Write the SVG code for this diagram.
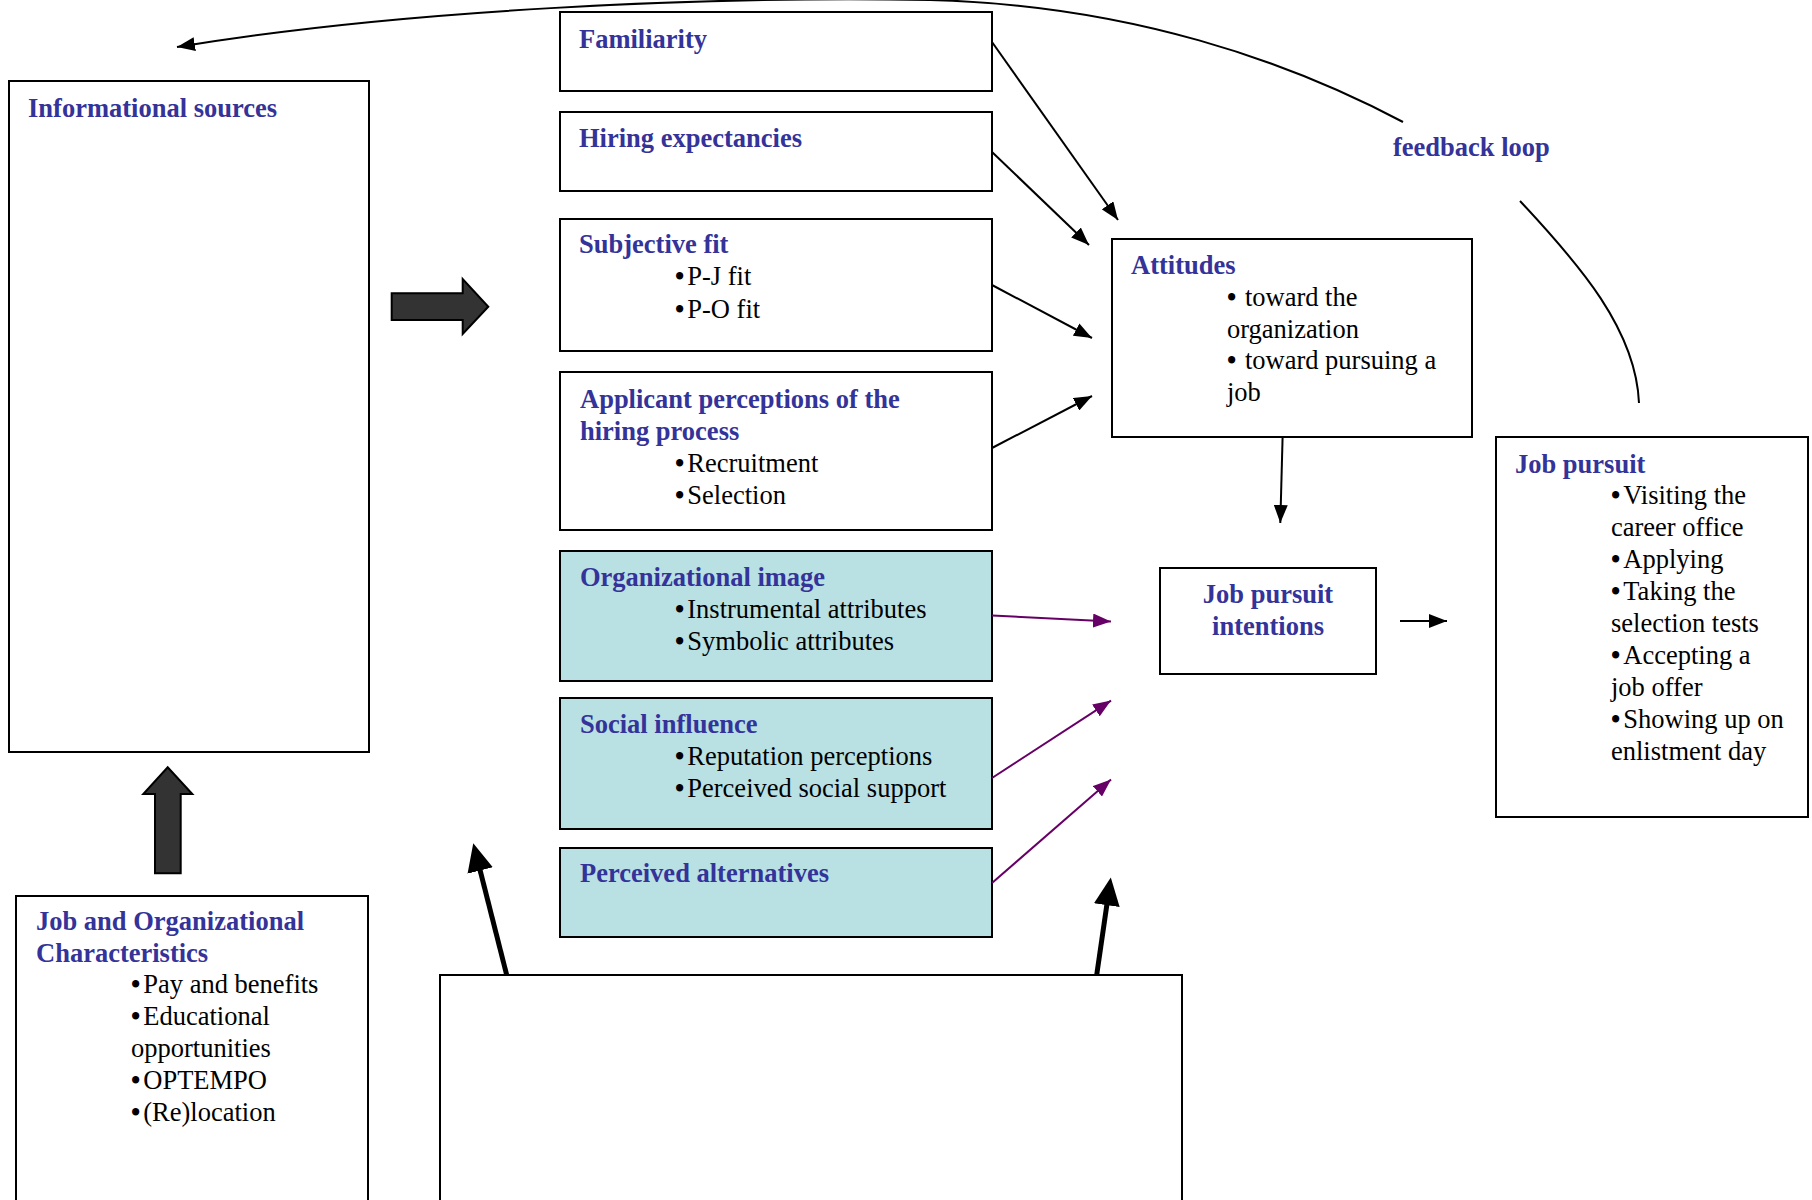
<svg xmlns="http://www.w3.org/2000/svg" width="1812" height="1200" viewBox="0 0 1812 1200">
<defs>
<style>
.box{fill:#fff;stroke:#000;stroke-width:2}
.teal{fill:#B9E0E3;stroke:#000;stroke-width:2}
.title{font-family:"Liberation Serif","Times New Roman",serif;font-weight:bold;font-size:26.5px;fill:#333399}
.body{font-family:"Liberation Serif","Times New Roman",serif;font-size:26.5px;fill:#000}
.b{font-weight:bold}
.conn{fill:none;stroke:#000;stroke-width:2}
.pconn{fill:none;stroke:#660066;stroke-width:2}
.thick{fill:none;stroke:#000;stroke-width:5}
.fat{fill:#333333;stroke:#000;stroke-width:2}
</style>
<marker id="ah" markerUnits="userSpaceOnUse" markerWidth="20" markerHeight="14" refX="18" refY="7" orient="auto"><path d="M0,0 L18,7 L0,14 z" fill="#000"/></marker>
<marker id="ahp" markerUnits="userSpaceOnUse" markerWidth="20" markerHeight="14" refX="18" refY="7" orient="auto"><path d="M0,0 L18,7 L0,14 z" fill="#660066"/></marker>
<marker id="ahb" markerUnits="userSpaceOnUse" markerWidth="30" markerHeight="28" refX="14" refY="13" orient="auto"><path d="M0,0 L28,13 L0,26 z" fill="#000"/></marker>
</defs>

<g id="informational-sources">
<rect class="box" x="9" y="81" width="360" height="671"/>
<text class="title" x="28" y="117">Informational sources</text>
</g>

<g id="job-org-characteristics">
<rect class="box" x="16" y="896" width="352" height="320"/>
<text class="title" x="36" y="930">Job and Organizational</text>
<text class="title" x="36" y="962">Characteristics</text>
<text class="body" x="131" y="993"><tspan class="b">•</tspan><tspan dx="3">Pay and benefits</tspan></text>
<text class="body" x="131" y="1025"><tspan class="b">•</tspan><tspan dx="3">Educational</tspan></text>
<text class="body" x="131" y="1057">opportunities</text>
<text class="body" x="131" y="1089"><tspan class="b">•</tspan><tspan dx="3">OPTEMPO</tspan></text>
<text class="body" x="131" y="1121"><tspan class="b">•</tspan><tspan dx="3">(Re)location</tspan></text>
</g>

<g id="familiarity">
<rect class="box" x="560" y="12" width="432" height="79"/>
<text class="title" x="579" y="48">Familiarity</text>
</g>

<g id="hiring-expectancies">
<rect class="box" x="560" y="112" width="432" height="79"/>
<text class="title" x="579" y="147">Hiring expectancies</text>
</g>

<g id="subjective-fit">
<rect class="box" x="560" y="219" width="432" height="132"/>
<text class="title" x="579" y="253">Subjective fit</text>
<text class="body" x="675" y="285"><tspan class="b">•</tspan><tspan dx="3">P-J fit</tspan></text>
<text class="body" x="675" y="318"><tspan class="b">•</tspan><tspan dx="3">P-O fit</tspan></text>
</g>

<g id="applicant-perceptions">
<rect class="box" x="560" y="372" width="432" height="158"/>
<text class="title" x="580" y="408">Applicant perceptions of the</text>
<text class="title" x="580" y="440">hiring process</text>
<text class="body" x="675" y="472"><tspan class="b">•</tspan><tspan dx="3">Recruitment</tspan></text>
<text class="body" x="675" y="504"><tspan class="b">•</tspan><tspan dx="3">Selection</tspan></text>
</g>

<g id="organizational-image">
<rect class="teal" x="560" y="551" width="432" height="130"/>
<text class="title" x="580" y="586">Organizational image</text>
<text class="body" x="675" y="618"><tspan class="b">•</tspan><tspan dx="3">Instrumental attributes</tspan></text>
<text class="body" x="675" y="650"><tspan class="b">•</tspan><tspan dx="3">Symbolic attributes</tspan></text>
</g>

<g id="social-influence">
<rect class="teal" x="560" y="698" width="432" height="131"/>
<text class="title" x="580" y="733">Social influence</text>
<text class="body" x="675" y="765"><tspan class="b">•</tspan><tspan dx="3">Reputation perceptions</tspan></text>
<text class="body" x="675" y="797"><tspan class="b">•</tspan><tspan dx="3">Perceived social support</tspan></text>
</g>

<g id="perceived-alternatives">
<rect class="teal" x="560" y="848" width="432" height="89"/>
<text class="title" x="580" y="882">Perceived alternatives</text>
</g>

<g id="attitudes">
<rect class="box" x="1112" y="239" width="360" height="198"/>
<text class="title" x="1131" y="274">Attitudes</text>
<text class="body" x="1227" y="306"><tspan class="b">•</tspan><tspan dx="2"> toward the</tspan></text>
<text class="body" x="1227" y="338">organization</text>
<text class="body" x="1227" y="369"><tspan class="b">•</tspan><tspan dx="2"> toward pursuing a</tspan></text>
<text class="body" x="1227" y="401">job</text>
</g>

<g id="job-pursuit-intentions">
<rect class="box" x="1160" y="568" width="216" height="106"/>
<text class="title" x="1268" y="603" text-anchor="middle">Job pursuit</text>
<text class="title" x="1268" y="635" text-anchor="middle">intentions</text>
</g>

<g id="job-pursuit">
<rect class="box" x="1496" y="437" width="312" height="380"/>
<text class="title" x="1515" y="473">Job pursuit</text>
<text class="body" x="1611" y="504"><tspan class="b">•</tspan><tspan dx="3">Visiting the</tspan></text>
<text class="body" x="1611" y="536">career office</text>
<text class="body" x="1611" y="568"><tspan class="b">•</tspan><tspan dx="3">Applying</tspan></text>
<text class="body" x="1611" y="600"><tspan class="b">•</tspan><tspan dx="3">Taking the</tspan></text>
<text class="body" x="1611" y="632">selection tests</text>
<text class="body" x="1611" y="664"><tspan class="b">•</tspan><tspan dx="3">Accepting a</tspan></text>
<text class="body" x="1611" y="696">job offer</text>
<text class="body" x="1611" y="728"><tspan class="b">•</tspan><tspan dx="3">Showing up on</tspan></text>
<text class="body" x="1611" y="760">enlistment day</text>
</g>

<g id="bottom-box">
<rect class="box" x="440" y="975" width="742" height="226"/>
</g>

<g id="feedback-label">
<text class="title" x="1393" y="156">feedback loop</text>
</g>

<g id="connectors">
<path class="conn" d="M1403,122 C1290,62 1130,5 930,0 C700,-4 400,10 177,47" marker-end="url(#ah)"/>
<path class="conn" d="M1520,201 C1580,265 1636,330 1639,403"/>
<line class="conn" x1="992" y1="42" x2="1118" y2="220" marker-end="url(#ah)"/>
<line class="conn" x1="992" y1="152" x2="1089" y2="245" marker-end="url(#ah)"/>
<line class="conn" x1="992" y1="285" x2="1092" y2="338" marker-end="url(#ah)"/>
<line class="conn" x1="992" y1="448" x2="1092" y2="396" marker-end="url(#ah)"/>
<line class="conn" x1="1282.6" y1="437" x2="1280.3" y2="523" marker-end="url(#ah)"/>
<line class="conn" x1="1400" y1="621" x2="1447" y2="621" marker-end="url(#ah)"/>
<line class="pconn" x1="992" y1="615.6" x2="1111" y2="621.4" marker-end="url(#ahp)"/>
<line class="pconn" x1="992" y1="778" x2="1111" y2="700.6" marker-end="url(#ahp)"/>
<line class="pconn" x1="992" y1="883" x2="1111" y2="779.4" marker-end="url(#ahp)"/>
<line class="thick" x1="506.7" y1="975" x2="476.7" y2="856.9" marker-end="url(#ahb)"/>
<line class="thick" x1="1096.7" y1="975" x2="1108.8" y2="891.3" marker-end="url(#ahb)"/>
<polygon class="fat" points="391.7,293.3 462.7,293.3 462.7,279 488.3,306.7 462.7,334 462.7,320 391.7,320"/>
<polygon class="fat" points="155,873.3 155,794 143.3,794 167.7,767.3 192.3,794 180.7,794 180.7,873.3"/>
</g>
</svg>
